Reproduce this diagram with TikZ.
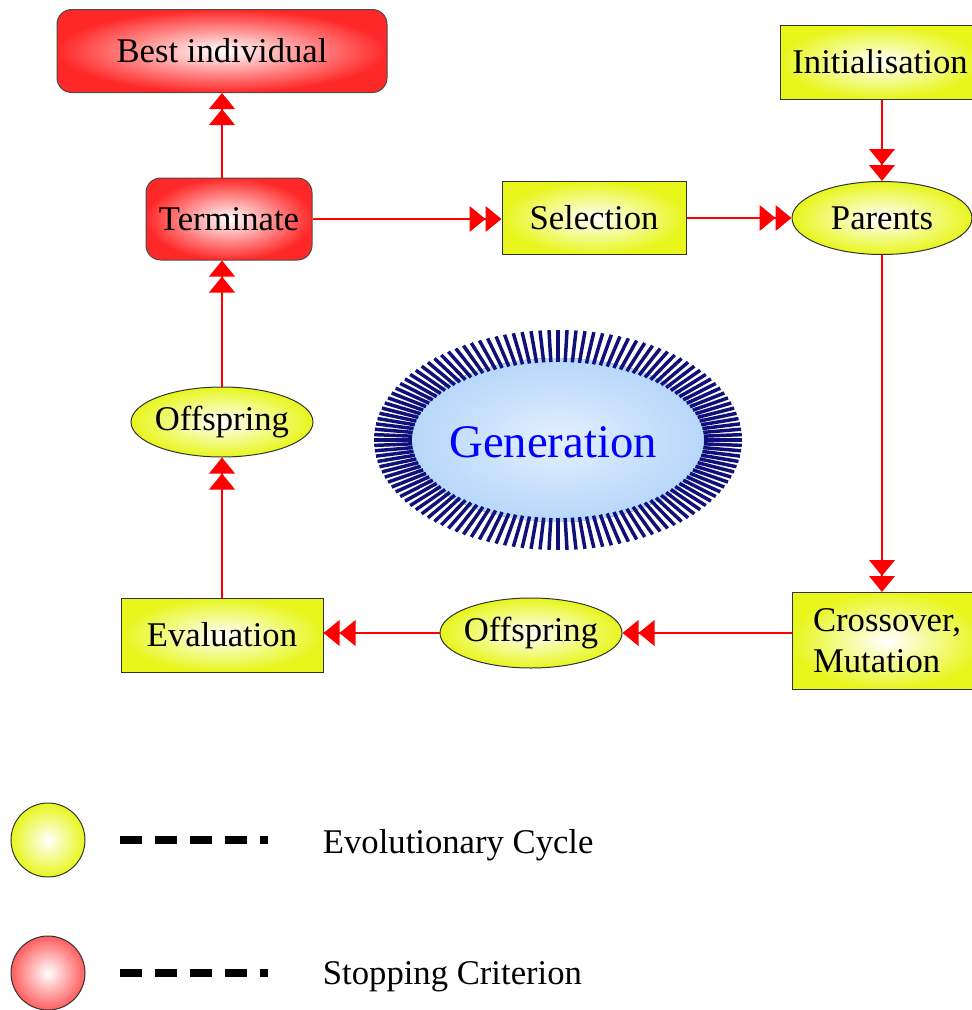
\documentclass[tikz,border=0pt]{standalone}
\usepackage{fontspec}
\setmainfont{Liberation Serif}
\usetikzlibrary{shapes.geometric,arrows.meta}

\definecolor{cycyellow}{RGB}{232,246,28}
\definecolor{stopred}{RGB}{255,40,40}
\definecolor{raynavy}{RGB}{16,16,122}
\definecolor{genblue}{RGB}{0,0,255}
\definecolor{skyin}{RGB}{228,240,253}
\definecolor{skyout}{RGB}{182,214,250}

\tikzset{every picture/.style={line width=0.75pt}}
\tikzset{
  cyclebox/.style={draw=black!80, line width=0.75pt, inner color=white, outer color=cycyellow,
    inner sep=2pt, font=\fontsize{26}{31}\selectfont},
  cycleoval/.style={cyclebox, ellipse, inner xsep=-4pt, inner ysep=0pt,
    minimum width=136.5pt, minimum height=52.5pt},
  stopbox/.style={draw=black!70, line width=0.75pt, rounded corners=11pt, inner color=white,
    outer color=stopred, inner sep=2pt, font=\fontsize{26}{31}\selectfont},
  flow/.style={draw=red, line width=2.1pt,
    -{Triangle[length=12pt,width=19pt] Triangle[length=12pt,width=19pt]}},
  legdash/.style={line width=6pt, dash pattern=on 16.5pt off 9.75pt},
}

\begin{document}
\begin{tikzpicture}[x=0.75pt,y=0.75pt,yscale=-1,xscale=1]
\useasboundingbox (0,0) rectangle (971,1010);

%Shape: Generation cloud
\fill[inner color=skyin, outer color=skyout] (558,440) ellipse (150 and 82);
\foreach \i in {0,...,127}{
  \pgfmathsetmacro\ang{\i*2.8125}
  \draw[raynavy, line width=2.6pt] ({558+146*cos(\ang)},{440+78*sin(\ang)}) -- ({558+184*cos(\ang)},{440+110*sin(\ang)});
}
% Text Node
\node (gen) at (553,442) [text=genblue, font=\fontsize{35}{40}\selectfont] {Generation};

%Shape: Stopping boxes
\node (best) at (222,51) [stopbox, minimum width=247.5pt, minimum height=62.25pt] {Best individual};
\node (term) at (229,219) [stopbox, minimum width=124.5pt, minimum height=61.5pt] {Terminate};

%Shape: Cycle boxes
\node (sel) at (594,218) [cyclebox, minimum width=138pt, minimum height=54.75pt] {Selection};
\node (init) at (880,62) [cyclebox, minimum width=150pt, minimum height=55.5pt] {Initialisation};
\node (par) at (882,218) [cycleoval, minimum width=135pt, minimum height=54.75pt] {Parents};
\node (cross) at (887,641) [cyclebox, align=left, minimum width=142.5pt, minimum height=72.75pt] {Crossover,\\Mutation};
\node (offb) at (531,633) [cycleoval] {Offspring};
\node (eval) at (222,635) [cyclebox, minimum width=151.5pt, minimum height=55.5pt] {Evaluation};
\node (offl) at (222,422) [cycleoval] {Offspring};

%Straight Lines
\draw[flow] (term.north -| best) -- (best);
\draw[flow] (offl.north) -- (offl.north |- term.south);
\draw[flow] (eval) -- (offl);
\draw[flow] (term.east) -- (term.east -| sel.west);
\draw[flow] (sel) -- (par);
\draw[flow] (init.south -| par) -- (par);
\draw[flow] (par.south) -- (par.south |- cross.north);
\draw[flow] (cross.west |- offb) -- (offb);
\draw[flow] (offb.west) -- (offb.west -| eval.east);

%Legend
\node (legcyc) at (48,840) [circle, draw=black!80, inner color=white, outer color=cycyellow, minimum size=55.5pt] {};
\node (legstop) at (48,973) [circle, draw=black!80, inner color=white, outer color=stopred!75, minimum size=55.5pt] {};
\draw[legdash] (120,840) -- (268,840);
\draw[legdash] (120,973) -- (268,973);
% Text Node
\node (legcyctxt) at (318,845) [anchor=west, font=\fontsize{26}{31}\selectfont] {Evolutionary Cycle};
% Text Node
\node (legstoptxt) at (318,977) [anchor=west, font=\fontsize{26}{31}\selectfont] {Stopping Criterion};

\end{tikzpicture}
\end{document}
